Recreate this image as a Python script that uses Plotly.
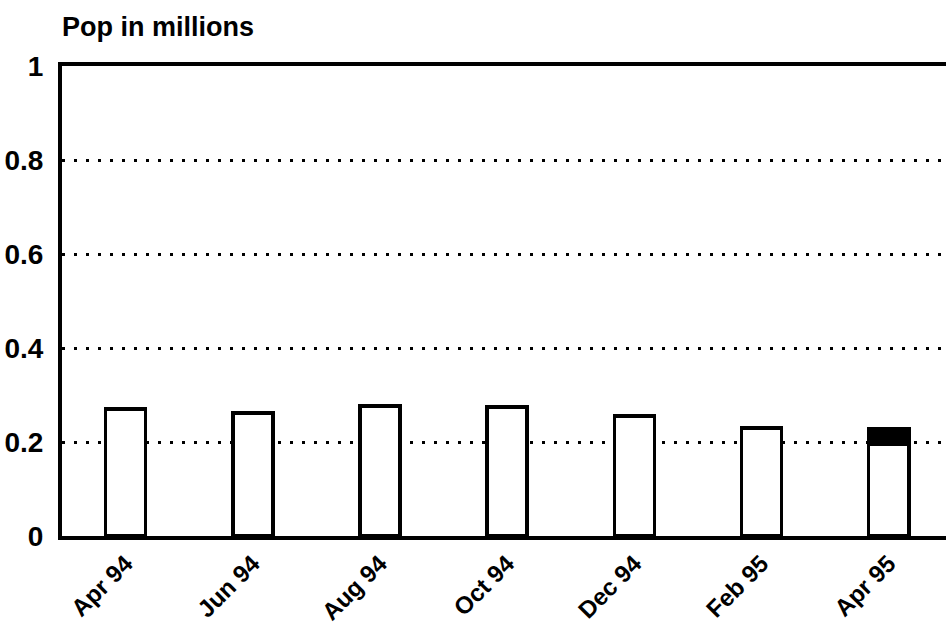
import plotly.graph_objects as go

categories = ["Apr 94", "Jun 94", "Aug 94", "Oct 94", "Dec 94", "Feb 95", "Apr 95"]
base_values = [0.270, 0.262, 0.277, 0.274, 0.255, 0.230, 0.196]
extra_values = [0, 0, 0, 0, 0, 0, 0.032]
y_ticks = [0, 0.2, 0.4, 0.6, 0.8, 1]
y_tick_labels = ["0", "0.2", "0.4", "0.6", "0.8", "1"]
title_text = "Pop in millions"

FONT = "Liberation Sans"

fig = go.Figure()
fig.add_trace(go.Bar(
    x=categories, y=base_values,
    marker=dict(color="white", line=dict(color="black", width=3.5)),
    showlegend=False, hoverinfo="skip",
))
fig.add_trace(go.Bar(
    x=categories, y=extra_values,
    marker=dict(color="black", line=dict(color="black", width=3.5)),
    showlegend=False, hoverinfo="skip",
))

fig.update_layout(
    width=946, height=625,
    barmode="stack",
    bargap=0.685,
    plot_bgcolor="white",
    paper_bgcolor="white",
    margin=dict(l=62, r=0, t=66, b=89, autoexpand=False),
    font=dict(family=FONT, color="black"),
    annotations=[dict(
        text=title_text, xref="paper", yref="paper",
        x=0, y=1.083, xanchor="left", yanchor="middle", xshift=-2,
        showarrow=False,
        font=dict(family=FONT, size=27, weight="bold", color="black"),
    )],
)

fig.update_xaxes(
    type="category",
    range=[-0.5, 6.45],
    automargin=False,
    showline=True, linecolor="black", linewidth=4, mirror=True,
    showgrid=False, ticks="",
    tickangle=-45,
    tickfont=dict(family=FONT, size=24, weight="bold", color="black"),
)
fig.update_yaxes(
    range=[0, 1],
    automargin=False,
    tickvals=y_ticks, ticktext=y_tick_labels,
    showline=True, linecolor="black", linewidth=4,
    showgrid=True, gridcolor="black", gridwidth=2.5, griddash="3px,9px",
    zeroline=False, ticks="",
    ticklabelstandoff=9,
    tickfont=dict(family=FONT, size=28, weight="bold", color="black"),
)

fig.write_html(
    "out.html",
    config={"displayModeBar": False},
    post_script="document.body.style.margin='0';document.body.style.overflow='hidden';",
)
